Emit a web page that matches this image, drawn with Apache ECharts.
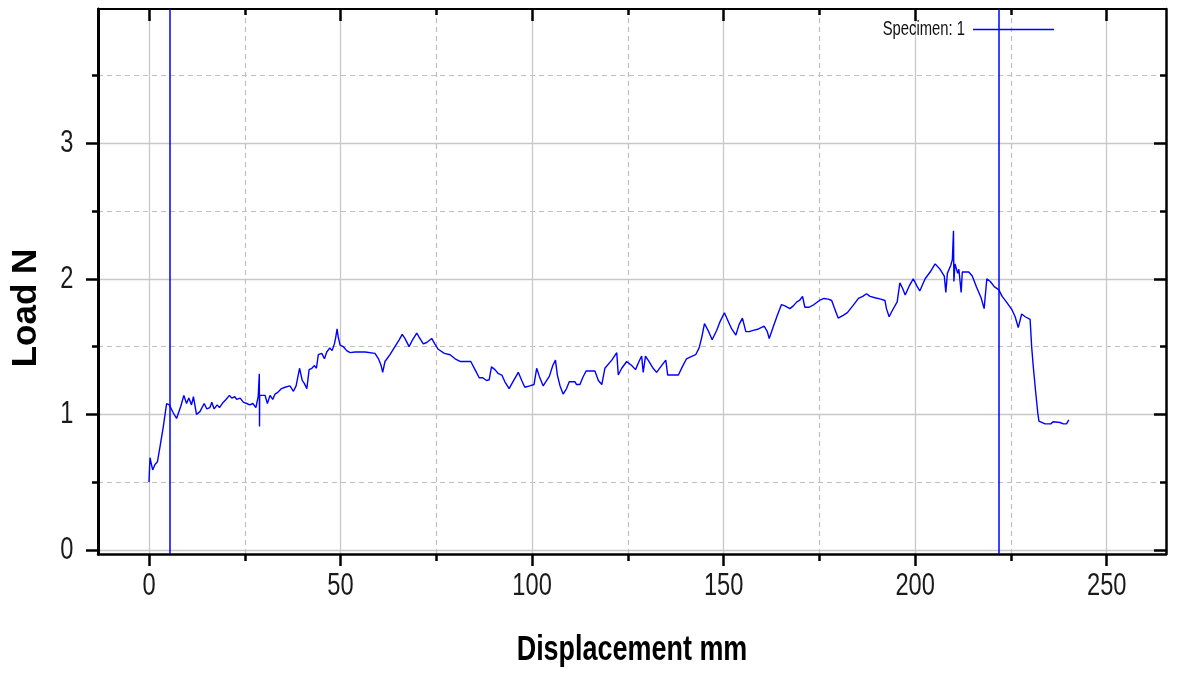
<!DOCTYPE html>
<html>
<head>
<meta charset="utf-8">
<script src="https://cdn.jsdelivr.net/npm/echarts@6/dist/echarts.min.js"></script>
<style>
  html, body { margin: 0; padding: 0; background: #fff; }
  #chart { width: 1178px; height: 673px; }
</style>
</head>
<body>
<div id="chart"></div>
<script>
// displacement (mm) and load (N)
var displacement = [
  0, 0.26, 0.96, 1.57, 2.2, 2.87, 3.74, 4.6, 5.3, 6.35, 7.2, 8.3, 9.1, 9.8, 10.4, 11.1, 11.6, 12.4, 13.3, 14.4,
  15.1, 15.9, 16.4, 17.0, 17.8, 18.4, 19.4, 20.1, 21.0, 21.6, 22.4, 22.9, 23.8, 24.6, 25.5, 26.3, 27.1, 27.9, 28.5, 28.8,
  28.85, 28.9, 29.4, 30.3, 30.9, 31.6, 32.3, 32.9, 33.5, 34.0, 34.6, 35.5, 36.8, 37.7, 38.4, 39.3, 40.0, 40.5, 41.2, 41.8,
  42.5, 43.2, 43.7, 44.2, 45.1, 45.8, 46.4, 46.8, 47.2, 47.8, 48.4, 48.7, 49.1, 49.4, 49.9, 50.7, 51.6, 52.5, 53.8, 56.4,
  59.0, 59.9, 60.6, 61.0, 61.6, 62.9, 64.2, 65.3, 66.1, 66.8, 67.9, 68.8, 69.9, 70.5, 71.6, 72.5, 73.8, 74.6, 75.5, 77.1,
  78.6, 79.9, 81.2, 84.0, 85.1, 86.2, 87.1, 88.1, 88.8, 89.4, 90.3, 91.2, 92.1, 92.9, 94.0, 95.2, 96.4, 97.3, 98.1, 99.4,
  100.5, 101.2, 101.9, 102.9, 103.8, 104.5, 105.4, 106.1, 106.6, 107.3, 108.1, 109.0, 109.7, 111.2, 111.6, 112.5, 113.2, 114.1, 116.4, 117.3,
  118.2, 119.0, 120.8, 122.1, 122.5, 123.4, 124.7, 126.0, 127.0, 127.9, 128.6, 129.0, 129.6, 130.5, 131.6, 132.5, 133.8, 134.9, 135.4, 138.2,
  139.2, 140.3, 141.8, 142.7, 143.6, 144.3, 145.0, 146.1, 147.0, 148.2, 149.0, 150.2, 151.3, 152.1, 153.2, 154.0, 154.9, 155.8, 156.7, 157.7,
  159.1, 160.6, 161.4, 161.9, 163.0, 164.0, 165.1, 166.0, 167.3, 168.2, 169.1, 169.8, 170.6, 171.2, 172.3, 173.6, 175.0, 176.2, 177.3, 178.2,
  179.1, 179.9, 181.2, 182.3, 183.7, 185.2, 186.3, 187.3, 188.2, 189.5, 191.0, 192.1, 192.5, 193.2, 194.1, 195.3, 196.0, 196.7, 197.4, 198.5,
  199.5, 200.4, 201.2, 202.6, 203.9, 205.2, 206.5, 207.6, 208.0, 208.4, 208.8, 209.3, 209.7, 210.0, 210.1, 210.4, 211.1, 211.4, 212.0, 212.3,
  212.8, 214.0, 214.9, 216.0, 217.2, 218.0, 218.7, 219.6, 220.7, 221.8, 222.7, 223.8, 225.2, 226.1, 226.9, 227.8, 228.7, 230.0, 230.4, 230.8,
  231.4, 232.0, 232.3, 233.9, 235.4, 236.0, 237.8, 238.7, 239.5, 240.1
];
var load = [
  0.50, 0.68, 0.59, 0.63, 0.65, 0.76, 0.91, 1.08, 1.07, 1.01, 0.97, 1.06, 1.14, 1.08, 1.12, 1.07, 1.13, 1.00, 1.02, 1.08,
  1.04, 1.05, 1.09, 1.04, 1.07, 1.05, 1.09, 1.11, 1.14, 1.12, 1.13, 1.11, 1.12, 1.09, 1.08, 1.07, 1.08, 1.05, 1.13, 1.30,
  0.91, 1.14, 1.14, 1.14, 1.08, 1.14, 1.11, 1.15, 1.16, 1.16, 1.19, 1.20, 1.21, 1.17, 1.21, 1.34, 1.25, 1.23, 1.19, 1.33,
  1.34, 1.36, 1.34, 1.44, 1.45, 1.41, 1.46, 1.45, 1.49, 1.47, 1.52, 1.56, 1.63, 1.57, 1.51, 1.50, 1.47, 1.455, 1.46, 1.46,
  1.45, 1.41, 1.36, 1.31, 1.39, 1.44, 1.50, 1.55, 1.59, 1.56, 1.50, 1.55, 1.60, 1.57, 1.52, 1.53, 1.56, 1.52, 1.48, 1.45,
  1.44, 1.41, 1.39, 1.39, 1.33, 1.27, 1.27, 1.25, 1.255, 1.35, 1.33, 1.30, 1.29, 1.24, 1.19, 1.25, 1.31, 1.25, 1.20, 1.21,
  1.22, 1.34, 1.28, 1.21, 1.25, 1.28, 1.36, 1.40, 1.29, 1.21, 1.15, 1.19, 1.24, 1.24, 1.22, 1.22, 1.27, 1.32, 1.32, 1.25,
  1.22, 1.34, 1.40, 1.455, 1.29, 1.34, 1.39, 1.36, 1.33, 1.39, 1.43, 1.31, 1.43, 1.39, 1.34, 1.31, 1.36, 1.40, 1.29, 1.29,
  1.35, 1.41, 1.43, 1.44, 1.49, 1.57, 1.67, 1.61, 1.55, 1.62, 1.68, 1.75, 1.68, 1.63, 1.585, 1.66, 1.71, 1.61, 1.61, 1.62,
  1.63, 1.65, 1.61, 1.56, 1.65, 1.73, 1.81, 1.80, 1.78, 1.80, 1.83, 1.84, 1.87, 1.79, 1.79, 1.81, 1.84, 1.855, 1.85, 1.84,
  1.77, 1.71, 1.73, 1.75, 1.80, 1.855, 1.87, 1.89, 1.87, 1.86, 1.85, 1.84, 1.78, 1.72, 1.77, 1.83, 1.97, 1.93, 1.88, 1.95,
  2.00, 1.95, 1.91, 2.00, 2.05, 2.11, 2.07, 2.02, 1.90, 2.04, 2.05, 2.10, 2.14, 2.355, 1.98, 2.11, 2.04, 2.07, 1.90, 2.05,
  2.05, 2.05, 2.02, 1.94, 1.86, 1.78, 2.00, 1.98, 1.94, 1.92, 1.87, 1.83, 1.775, 1.72, 1.64, 1.74, 1.72, 1.70, 1.50, 1.36,
  1.18, 1.01, 0.95, 0.93, 0.93, 0.945, 0.94, 0.93, 0.93, 0.96
];
var markerDisplacement = [5.3, 221.7];
var xTickValues = [0, 50, 100, 150, 200, 250];
var yTickValues = [0, 1, 2, 3];
var seriesName = 'Specimen: 1';

var fam = '"Liberation Sans", Arial, sans-serif';
// the original picture is squeezed sideways, so texts get a scaleX
var squeeze = 0.74;

var points = displacement.map(function (x, i) { return [x, load[i]]; });

var xMin = -13.31, xMax = 265.47;
var yMin = -0.03, yMax = 3.99;

var chart = echarts.init(document.getElementById('chart'));
chart.setOption({
    animation: false,
    backgroundColor: '#fff',
    grid: { left: 98, right: 12, top: 9, bottom: 119, containLabel: false },
    legend: {
        data: [seriesName],
        right: 119,
        top: 16.5,
        padding: 5,
        align: 'right',
        icon: 'rect',
        itemWidth: 81,
        itemHeight: 1.5,
        // legend text is drawn below as squeezed graphic text
        textStyle: { fontFamily: fam, fontSize: 15.5, color: 'rgba(0,0,0,0)' }
    },
    xAxis: [{
        type: 'value',
        min: xMin, max: xMax, splitNumber: 5,
        axisLine: { onZero: false, lineStyle: { color: '#000', width: 2.5 } },
        axisTick: { customValues: xTickValues, length: 12, lineStyle: { color: '#000', width: 2.5 } },
        minorTick: { show: true, splitNumber: 2, length: 7, lineStyle: { color: '#000', width: 2.5 } },
        axisLabel: { show: false },
        splitLine: { show: true, lineStyle: { color: '#c8c8c8', width: 1.3 } },
        minorSplitLine: { show: true, lineStyle: { color: '#c0c0c0', width: 1.2, type: [5, 4] } }
    }, {
        type: 'value',
        position: 'top',
        min: xMin, max: xMax, splitNumber: 5,
        axisLine: { onZero: false, lineStyle: { color: '#000', width: 2 } },
        axisTick: { inside: true, customValues: xTickValues, length: 12, lineStyle: { color: '#000', width: 2.5 } },
        minorTick: { show: true, splitNumber: 2, length: 6, lineStyle: { color: '#000', width: 2.5 } },
        axisLabel: { show: false },
        splitLine: { show: false }
    }],
    yAxis: [{
        type: 'value',
        min: yMin, max: yMax, splitNumber: 4,
        axisLine: { onZero: false, lineStyle: { color: '#000', width: 3 } },
        axisTick: { customValues: yTickValues, length: 12, lineStyle: { color: '#000', width: 2.5 } },
        minorTick: { show: true, splitNumber: 2, length: 6, lineStyle: { color: '#000', width: 2.5 } },
        axisLabel: { show: false },
        splitLine: { show: true, lineStyle: { color: '#c8c8c8', width: 1.3 } },
        minorSplitLine: { show: true, lineStyle: { color: '#c0c0c0', width: 1.2, type: [5, 4] } }
    }, {
        type: 'value',
        position: 'right',
        min: yMin, max: yMax, splitNumber: 4,
        axisLine: { show: true, onZero: false, lineStyle: { color: '#000', width: 2.5 } },
        axisTick: { show: true, inside: true, customValues: yTickValues, length: 12, lineStyle: { color: '#000', width: 2.5 } },
        minorTick: { show: true, splitNumber: 2, length: 6, lineStyle: { color: '#000', width: 2.5 } },
        axisLabel: { show: false },
        splitLine: { show: false }
    }],
    series: [{
        name: seriesName,
        type: 'line',
        data: points,
        showSymbol: false,
        symbol: 'none',
        color: '#0000ff',
        lineStyle: { color: '#0000ff', width: 1.4 },
        markLine: {
            silent: true,
            symbol: 'none',
            label: { show: false },
            lineStyle: { color: '#0000ff', width: 1.5, type: 'solid' },
            data: markerDisplacement.map(function (v) { return { xAxis: v }; })
        }
    }]
});

// tick labels and titles as squeezed text, placed through the axes
var axisBottom = chart.convertToPixel({ yAxisIndex: 0 }, yMin);
var axisTop = chart.convertToPixel({ yAxisIndex: 0 }, yMax);
var axisLeft = chart.convertToPixel({ xAxisIndex: 0 }, xMin);
var gridMidX = (axisLeft + chart.convertToPixel({ xAxisIndex: 0 }, xMax)) / 2;

var labels = [];
xTickValues.forEach(function (v) {
    labels.push({
        type: 'text',
        x: chart.convertToPixel({ xAxisIndex: 0 }, v),
        y: axisBottom + 32,
        scaleX: squeeze,
        style: {
            text: String(v), fontFamily: fam, fontSize: 32, fill: '#1a1a1a',
            align: 'center', verticalAlign: 'middle'
        }
    });
});
yTickValues.forEach(function (v) {
    labels.push({
        type: 'text',
        x: axisLeft - 24.5,
        y: chart.convertToPixel({ yAxisIndex: 0 }, v),
        scaleX: squeeze,
        style: {
            text: String(v), fontFamily: fam, fontSize: 32, fill: '#1a1a1a',
            align: 'right', verticalAlign: 'middle'
        }
    });
});
labels.push({
    type: 'text',
    x: gridMidX,
    y: axisBottom + 96,
    scaleX: 0.77,
    style: {
        text: 'Displacement mm', fontFamily: fam, fontSize: 35, fontWeight: 'bold', fill: '#000',
        align: 'center', verticalAlign: 'middle'
    }
});
labels.push({
    type: 'text',
    x: 26,
    y: 308,
    rotation: Math.PI / 2,
    style: {
        text: 'Load N', fontFamily: fam, fontSize: 35, fontWeight: 'bold', fill: '#000',
        align: 'center', verticalAlign: 'middle'
    }
});
labels.push({
    type: 'text',
    x: 965,
    y: axisTop + 20,
    scaleX: squeeze,
    style: {
        text: seriesName, fontFamily: fam, fontSize: 20, fill: '#111',
        align: 'right', verticalAlign: 'middle'
    }
});
chart.setOption({ graphic: labels });
</script>
</body>
</html>
